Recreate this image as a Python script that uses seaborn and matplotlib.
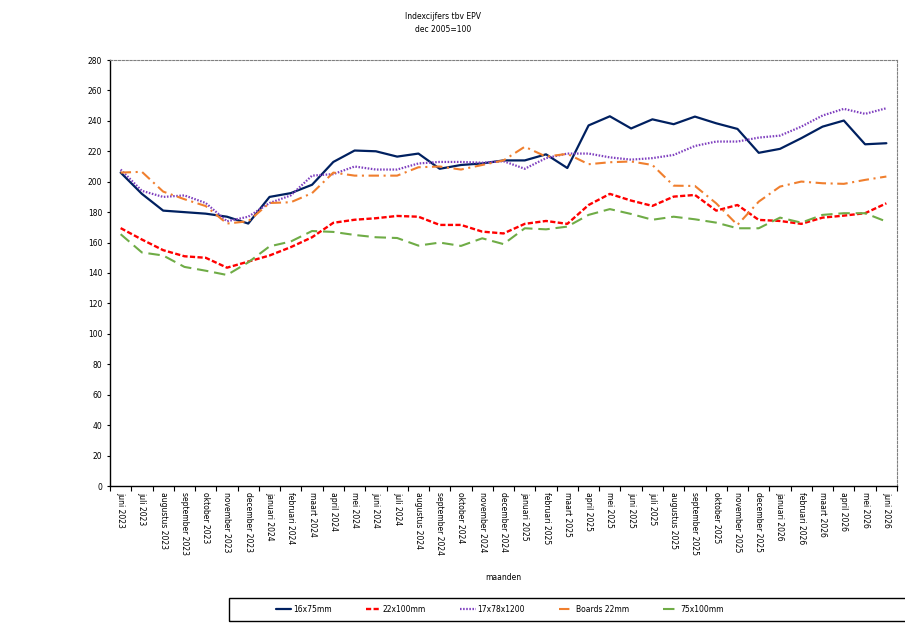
import matplotlib
matplotlib.use("Agg")
import matplotlib.pyplot as plt
import matplotlib.patches as mpatches
from matplotlib.ticker import FixedLocator, MultipleLocator
import seaborn as sns
import numpy as np

months = ["juni 2023", "juli 2023", "augustus 2023", "september 2023", "oktober 2023",
          "november 2023", "december 2023", "januari 2024", "februari 2024", "maart 2024",
          "april 2024", "mei 2024", "juni 2024", "juli 2024", "augustus 2024",
          "september 2024", "oktober 2024", "november 2024", "december 2024",
          "januari 2025", "februari 2025", "maart 2025", "april 2025", "mei 2025",
          "juni 2025", "juli 2025", "augustus 2025", "september 2025", "oktober 2025",
          "november 2025", "december 2025", "januari 2026", "februari 2026",
          "maart 2026", "april 2026", "mei 2026", "juni 2026"]

s16x75 = [206, 192, 181, 180, 179, 177, 172.5, 190, 192.5, 198, 213, 220.5, 220, 216.5,
          218.5, 208.5, 211, 212, 214, 214, 218, 209, 237, 243, 235, 241, 237.8, 242.8,
          238.4, 234.7, 219, 221.6, 228.6, 236.2, 240.2, 224.6, 225.3]
s22x100 = [169.5, 162, 155, 151, 150, 143.5, 147.5, 151.5, 157, 163.5, 173, 175, 176,
           177.5, 177, 171.6, 171.6, 167.2, 166, 172.3, 174.2, 172.3, 184.7, 192, 187.6,
           184.1, 190.2, 191.3, 181, 184.7, 174.9, 174.2, 172.3, 176.4, 177.7, 179.3, 185.8]
s17x78 = [208, 194, 190, 191, 186, 174, 177, 186, 191, 204, 205, 210, 208, 208, 212, 213,
          213, 212.5, 213.5, 208.5, 215.5, 218.5, 218.5, 216, 214.5, 215.5, 217.6, 223.5,
          226.4, 226.4, 229, 230.3, 236.2, 243.5, 247.9, 244.6, 248.3]
boards22 = [206, 206.5, 193.5, 188.5, 184, 172.5, 174, 186, 186.5, 192.5, 206, 204, 204,
            204, 209.5, 210, 208, 211, 214, 223, 216.5, 218.3, 211.5, 212.8, 213.3, 211,
            197.4, 197.2, 185.8, 171.6, 186.9, 196.8, 200.1, 199, 198.6, 201.2, 203.4]
s75x100 = [165.5, 153.5, 151.5, 144, 141.5, 138.7, 147, 157.5, 160.7, 167.6, 167, 165,
           163.5, 163, 158, 160, 157.8, 162.8, 159, 169.4, 168.7, 170.5, 178.2, 182, 178.8,
           175, 177, 175.3, 173.1, 169.4, 169.4, 176.4, 173.1, 178.2, 179.3, 179.3, 173.8]

series_names = ["16x75mm", "22x100mm", "17x78x1200", "Boards 22mm", "75x100mm"]
series_vals = [s16x75, s22x100, s17x78, boards22, s75x100]
colors = ["#002060", "#FF0000", "#7F3FBF", "#F07F2E", "#6FAC46"]
styles = ["-", (0, (2.2, 1.0)), (0, (0.7, 0.7)), (0, (5, 2.2, 1, 2.2)), (0, (5.5, 2.8))]
widths = [1.6, 1.7, 1.6, 1.5, 1.5]

sns.set_theme(style="white")
plt.rcParams['font.family'] = ['DejaVu Sans']
plt.rcParams['font.size'] = 5.5
for k in ["text.color", "axes.labelcolor", "xtick.color", "ytick.color"]:
    plt.rcParams[k] = "black"

fig = plt.figure(figsize=(9.05, 6.27), dpi=100)
ax = fig.add_axes([110/905, 1-486/627, (897-110)/905, (486-60)/627])

x = np.arange(len(months))
for name, vals, c, ls, lw in zip(series_names, series_vals, colors, styles, widths):
    sns.lineplot(x=x, y=vals, ax=ax, color=c, linestyle=ls, linewidth=lw, label=name)

ax.set_xlim(-0.5, len(months) - 0.5)
ax.set_ylim(0, 280)
ax.yaxis.set_major_locator(MultipleLocator(20))
ax.set_xticks(x)
ax.set_xticklabels(months, rotation=270, ha="center", va="top", fontsize=5.5)
ax.xaxis.set_minor_locator(FixedLocator(np.arange(-0.5, len(months), 1.0)))
ax.tick_params(axis="x", which="major", length=0, pad=4, labelcolor="black")
ax.tick_params(axis="x", which="minor", length=3.5, width=0.8, color="black", direction="out", bottom=True)
ax.tick_params(axis="y", which="major", length=2.5, width=0.8, color="black", direction="out",
               left=True, pad=3, labelsize=5.5, labelcolor="black")
ax.grid(False)

for side in ["left", "bottom"]:
    ax.spines[side].set_color("black")
    ax.spines[side].set_linewidth(1.0)
for side in ["top", "right"]:
    ax.spines[side].set_color("#808080")
    ax.spines[side].set_linewidth(0.8)
    ax.spines[side].set_linestyle((0, (2, 1.5)))

ax.set_xlabel("maanden", fontsize=5.5, color="black")
ax.xaxis.set_label_coords(0.5, -0.205)
ax.set_ylabel("")

fig.suptitle("Indexcijfers tbv EPV\ndec 2005=100", x=443/905, y=1-12/627, fontsize=5.5,
             va="top", linespacing=1.6, color="black")

handles, labels = ax.get_legend_handles_labels()
ax.get_legend().remove()
leg = fig.legend(handles, labels, ncol=5, loc="center left",
                 bbox_to_anchor=(276/905, 1-609.5/627), frameon=False, fontsize=5.5,
                 handlelength=2.0, handletextpad=0.2, columnspacing=4.5,
                 borderpad=0, borderaxespad=0)
for t in leg.get_texts():
    t.set_color("black")
rect = mpatches.Rectangle((229/905, 1-621/627), 0.76, 23/627, transform=fig.transFigure,
                          fill=False, edgecolor="black", linewidth=1.0, clip_on=False)
fig.patches.append(rect)

fig.savefig("out.png", dpi=100)
